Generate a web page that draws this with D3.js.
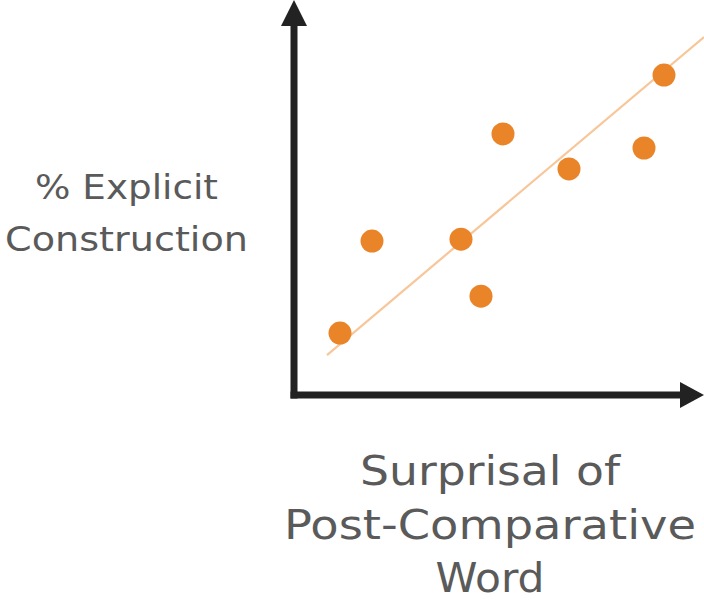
<!DOCTYPE html>
<html>
<head>
<meta charset="utf-8">
<script src="https://cdn.jsdelivr.net/npm/d3@7"></script>
<style>
  body { margin: 0; background: #fff; }
  svg text { font-family: "DejaVu Sans", sans-serif; fill: #5a5a5a; }
</style>
</head>
<body>
<svg id="chart" width="704" height="603"></svg>
<script>
// points (abstract units)
const pointX = [1.15, 1.95, 4.175, 4.675, 5.225, 6.875, 8.75, 9.25];
const pointY = [1.63, 4.05, 4.1, 2.6, 6.87, 5.95, 6.5, 8.42];
// hand-drawn trend line endpoints
const trendX = [0.825, 10.25];
const trendY = [1.05, 9.42];
const xLabel = ["Surprisal of", "Post-Comparative", "Word"];
const yLabel = ["% Explicit", "Construction"];

const svg = d3.select("#chart");

const x = d3.scaleLinear().domain([0, 10]).range([294, 694]);
const y = d3.scaleLinear().domain([0, 10]).range([395, 15]);

const axisColor = "#222222";

// axes with arrow heads
svg.append("line")
    .attr("x1", x(0)).attr("y1", y(0) + 3.5)
    .attr("x2", x(0)).attr("y2", 24)
    .attr("stroke", axisColor).attr("stroke-width", 7);
svg.append("path")
    .attr("d", `M${x(0)},0 L${x(0) + 13},26 L${x(0) - 13},26 Z`)
    .attr("fill", axisColor);

svg.append("line")
    .attr("x1", x(0) - 3.5).attr("y1", y(0))
    .attr("x2", 682).attr("y2", y(0))
    .attr("stroke", axisColor).attr("stroke-width", 7);
svg.append("path")
    .attr("d", `M704,${y(0)} L680,${y(0) - 13} L680,${y(0) + 13} Z`)
    .attr("fill", axisColor);

// trend line
svg.append("line")
    .attr("x1", x(trendX[0])).attr("y1", y(trendY[0]))
    .attr("x2", x(trendX[1])).attr("y2", y(trendY[1]))
    .attr("stroke", "#F7C699").attr("stroke-width", 2.2);

// dots
svg.selectAll("circle.pt")
    .data(pointX.map((d, i) => [d, pointY[i]]))
    .enter()
    .append("circle")
    .attr("class", "pt")
    .attr("cx", d => x(d[0]))
    .attr("cy", d => y(d[1]))
    .attr("r", 11.5)
    .attr("fill", "#EA8429");

// axis labels (widths matched to the reference)
const xWidths = [260, 412, 109];
svg.selectAll("text.xl")
    .data(xLabel)
    .enter()
    .append("text")
    .attr("class", "xl")
    .attr("x", 490)
    .attr("y", (d, i) => 485 + i * 53.5)
    .attr("text-anchor", "middle")
    .attr("font-size", 40)
    .attr("textLength", (d, i) => xWidths[i])
    .attr("lengthAdjust", "spacingAndGlyphs")
    .text(d => d);

const yWidths = [183, 243];
svg.selectAll("text.yl")
    .data(yLabel)
    .enter()
    .append("text")
    .attr("class", "yl")
    .attr("x", 126.5)
    .attr("y", (d, i) => 199 + i * 52)
    .attr("text-anchor", "middle")
    .attr("font-size", 33)
    .attr("textLength", (d, i) => yWidths[i])
    .attr("lengthAdjust", "spacingAndGlyphs")
    .text(d => d);
</script>
</body>
</html>
